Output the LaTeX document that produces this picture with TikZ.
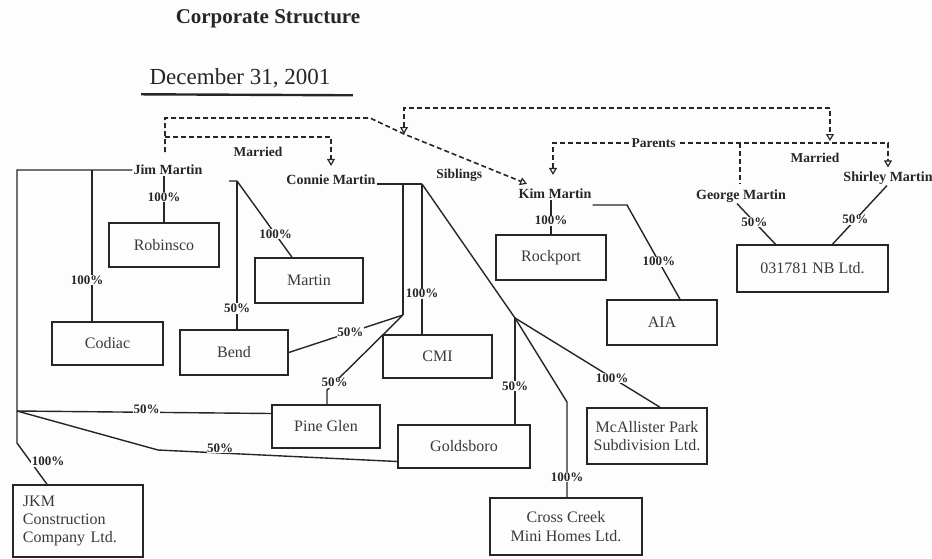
\documentclass[tikz,border=0pt]{standalone}
\usepackage{fontspec}
\setmainfont{Liberation Serif}
\usetikzlibrary{arrows.meta,positioning,calc}
\definecolor{ink}{HTML}{262626}
\definecolor{boxink}{HTML}{3A3A3A}
\definecolor{paper}{HTML}{FDFDFD}
\tikzset{
  firm/.style={draw=ink, line width=1.5pt, inner sep=0pt, align=center,
    font=\fontsize{16}{19}\selectfont, text=boxink},
  person/.style={font=\fontsize{14}{16}\selectfont\bfseries, text=ink, inner sep=1pt},
  pct/.style={font=\fontsize{13}{15}\selectfont\bfseries, text=ink,
    inner sep=0.6pt, fill=paper},
  rel/.style={font=\fontsize{13.5}{15}\selectfont\bfseries, text=ink, inner sep=1pt},
  heading/.style={font=\fontsize{21}{24}\selectfont\bfseries, text=ink},
  % ownership lines
  own/.style={line width=1.4pt, color=ink},
  % family ties
  kin/.style={line width=1.6pt, color=ink, dash pattern=on 5pt off 3pt},
  kinhead/.tip={Triangle[open, length=7pt, width=8pt, line width=1.2pt]},
  kintip/.style={kin, -kinhead},
  kinboth/.style={kin, kinhead-kinhead},
}
\begin{document}
\begin{tikzpicture}[x=1pt,y=-1pt]
  \fill[paper] (0,0) rectangle (932,558);
  \useasboundingbox (0,0) rectangle (932,558);
  % heading
  \node[heading] (title) at (268,19) {Corporate Structure};
  \node[font=\fontsize{23}{26}\selectfont, text=ink] (date) at (240,78) {December 31, 2001};
  \draw[line width=2.4pt, ink] ([xshift=-5pt,yshift=-3pt]date.south west)
    -- ([xshift=19pt,yshift=-4pt]date.south east);
  % people
  \node[person] (jim) at (168,170) {Jim Martin};
  \node[person] (connie) at (331,180) {Connie Martin};
  \node[person] (kim) at (555,194) {Kim Martin};
  \node[person] (george) at (741,196) {George Martin};
  \node[person] (shirley) at (888,178) {Shirley Martin};
  % companies
  \node[firm, minimum width=110, minimum height=44] (robinsco) at (164,245) {Robinsco};
  \node[firm, minimum width=111, minimum height=43] (codiac) at (107.5,343.5) {Codiac};
  \node[firm, minimum width=108, minimum height=45] (bend) at (234,352.5) {Bend};
  \node[firm, minimum width=108, minimum height=45] (martin) at (309,280.5) {Martin};
  \node[firm, minimum width=109, minimum height=43] (cmi) at (437.5,356.5) {CMI};
  \node[firm, minimum width=108, minimum height=43] (pineglen) at (326,426.5) {Pine Glen};
  \node[firm, minimum width=132, minimum height=43] (goldsboro) at (464,446.5) {Goldsboro};
  \node[firm, minimum width=152, minimum height=57] (crosscreek) at (566,526.5) {Cross Creek\\Mini Homes Ltd.};
  \node[firm, minimum width=120, minimum height=56, font=\fontsize{16}{18}\selectfont] (mcallister) at (647,436) {McAllister Park\\Subdivision Ltd.};
  \node[firm, text width=110, inner xsep=10, minimum height=72, align=left,
    font=\fontsize{16}{18.3}\selectfont] (jkm) at (78,521) {JKM\\Construction\\Company Ltd.};
  \node[firm, minimum width=110, minimum height=45] (rockport) at (551,257.5) {Rockport};
  \node[firm, minimum width=110, minimum height=45] (aia) at (662,322.5) {AIA};
  \node[firm, minimum width=151, minimum height=47] (nb) at (812.5,268.5) {031781 NB Ltd.};

  % Jim Martin
  \coordinate (jcorner) at (17,170);
  \coordinate (jsplit) at (17,411);
  \coordinate (jknee) at (17,443);
  \coordinate (jcod) at (92,170);
  \coordinate (gknee) at (158,450);
  \draw[own] (jim.west) -- (jcorner) -- (jknee)
    -- node[pct, anchor=west, pos=0.45] {100\%} ([xshift=-31pt]jkm.north);
  \draw[own] (jcod) -- node[pct, pos=0.73, xshift=-5pt] {100\%} (jcod |- codiac.north);
  \draw[own] (jim.south -| robinsco.north) -- node[pct, pos=0.45] {100\%} (robinsco.north);
  \draw[own] (jsplit) -- node[pct, pos=0.51, yshift=3pt] {50\%} ([yshift=13pt]pineglen.west);
  \draw[own] (jsplit) -- (gknee)
    -- node[pct, pos=0.26, yshift=5pt] {50\%} ([yshift=-15pt]goldsboro.west);
  % Bend and Martin
  \coordinate (bmtick) at (229,181);
  \coordinate (bmtop) at (237,181);
  \draw[own] (bmtick) -- (bmtop) -- node[pct, pos=0.7] {100\%} ([xshift=-17pt]martin.north);
  \draw[own] (bmtop) -- node[pct, pos=0.86] {50\%} (bmtop |- bend.north);
  % Connie Martin
  \coordinate (cright) at (422,184);
  \coordinate (cjoin) at (403,315);
  \coordinate (pknee) at (327,390);
  \coordinate (gjoin) at (515,318);
  \coordinate (ccknee) at (567,402);
  \draw[own] ([yshift=-4pt]connie.east) -- (cright);
  \draw[own] (cjoin |- cright) -- (cjoin);
  \draw[own] (cjoin) -- node[pct, pos=0.46] {50\%} (bend.east);
  \draw[own] (cjoin) -- node[pct, pos=0.9] {50\%} (pknee) -- (pknee |- pineglen.north);
  \draw[own] (cright) -- node[pct, pos=0.73] {100\%} (cright |- cmi.north);
  \draw[own] (cright) -- (gjoin);
  \draw[own] (gjoin) -- node[pct, pos=0.64] {50\%} (gjoin |- goldsboro.north);
  \draw[own] (gjoin) -- (ccknee) -- node[pct, pos=0.79] {100\%} (ccknee |- crosscreek.north);
  \draw[own] (gjoin) -- node[pct, pos=0.67] {100\%} ([xshift=13pt]mcallister.north);
  % Kim Martin
  \coordinate (kright) at (627,205);
  \draw[own] (kim.south -| rockport.north) -- node[pct, pos=0.6] {100\%} (rockport.north);
  \draw[own] ([yshift=-11pt]kim.east) -- (kright)
    -- node[pct, pos=0.6] {100\%} ([xshift=18pt]aia.north);
  % George and Shirley
  \draw[own] ([xshift=-4pt]george.south) -- node[pct, pos=0.45] {50\%} ([xshift=-37pt]nb.north);
  \draw[own] ([xshift=-1pt]shirley.south) -- node[pct, pos=0.58] {50\%} ([xshift=20pt]nb.north);

  % family ties
  \coordinate (kinbot) at (165,152);
  \coordinate (kintop) at (165,118);
  \coordinate (kinmid) at (165,137);
  \coordinate (sibknee) at (370,118);
  \coordinate (sibmark) at (404,134);
  \coordinate (parknee) at (404,108);
  \coordinate (marknee) at (830,108);
  \coordinate (marmark) at (830,141);
  \coordinate (conknee) at (331,137);
  \coordinate (kimdrop) at (553,143);
  \coordinate (georgedrop) at (740,143);
  \coordinate (shirknee) at (888,143);
  \draw[kintip] (kinbot) -- (kintop) -- (sibknee) -- (sibmark)
    -- node[rel, pos=0.45, below=11pt] {Siblings} ([xshift=-28pt,yshift=4pt]kim.north);
  \draw[kinboth] (sibmark) -- (parknee) -- (marknee) -- (marmark);
  \draw[kintip] (kinmid) -- (conknee) -- ([yshift=8pt]connie.north);
  \draw[kinboth] ([xshift=-2pt,yshift=13pt]kim.north) -- (kimdrop)
    -- node[rel, fill=paper, pos=0.3] {Parents} (shirknee) -- ([yshift=3pt]shirley.north);
  \draw[kin] (georgedrop) -- ([yshift=4pt]georgedrop |- george.north);
  \node[rel] (marriedL) at (258,152) {Married};
  \node[rel] (marriedR) at (815,158) {Married};
\end{tikzpicture}
\end{document}
